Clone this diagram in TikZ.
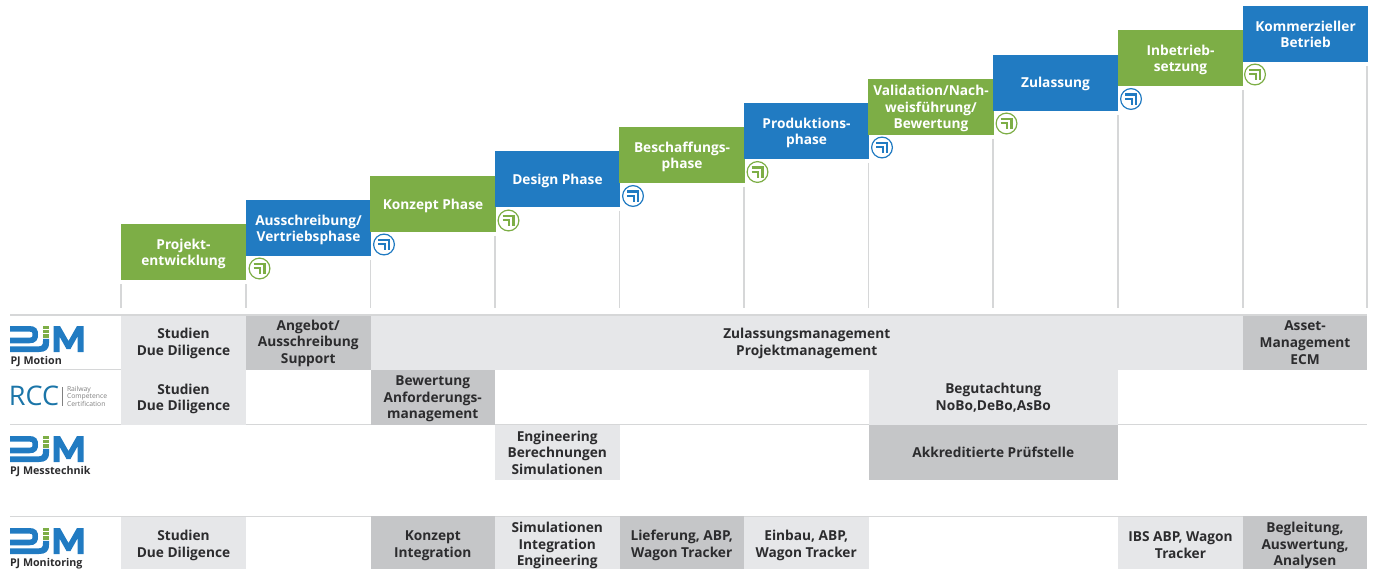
\documentclass[tikz,border=0pt]{standalone}
\usepackage{fontspec}
\setmainfont{Open Sans}
\definecolor{pjblue}{HTML}{217BC2}
\definecolor{pjgreen}{HTML}{7DAE46}
\definecolor{celllight}{HTML}{E6E7E9}
\definecolor{celldark}{HTML}{C5C6C8}
\definecolor{rulegrey}{HTML}{D6D7D8}
\definecolor{inkdark}{HTML}{2C2C2E}
\definecolor{rccblue}{HTML}{1B75A8}
\tikzset{
  x=1pt,y=-1pt,
  boxbase/.style={inner sep=0pt,outer sep=0pt},
  captiontext/.style={inner sep=0pt,outer sep=0pt,align=center,font=\fontsize{13.7}{16.6}\selectfont\bfseries},
  stepblue/.style={boxbase,fill=pjblue},
  stepgreen/.style={boxbase,fill=pjgreen},
  lightcell/.style={boxbase,fill=celllight},
  darkcell/.style={boxbase,fill=celldark},
  rowrule/.style={draw=rulegrey,line width=1.2pt},
  toprule/.style={draw=rulegrey,line width=2pt},
  colrule/.style={draw=rulegrey,line width=1.2pt},
  logotext/.style={inner sep=0pt,outer sep=0pt,anchor=base west,text=inkdark,font=\fontsize{10.7}{12}\selectfont\bfseries},
}
% name, x0, x1, y0, y1, box style, text shift downward, text
\newcommand{\cellbox}[8]{%
  \node[#6,minimum width={(#3-#2)*1pt},minimum height={(#5-#4)*1pt}] (#1) at ({(#2+#3)/2},{(#4+#5)/2}) {};
  \node[captiontext,text=inkdark,yshift={-(#7)*1pt}] (#1t) at (#1) {#8};}
% name, x, y, box style, text shift downward, text
\newcommand{\stagebox}[6]{%
  \node[#4,minimum width=125.5pt,minimum height=56pt] (#1) at ({#2+62.5},{#3+28}) {};
  \node[captiontext,text=white,yshift={-(#5)*1pt}] (#1t) at (#1) {#6};}
\newcommand{\hookicon}[3]{%
  \begin{scope}[shift={(#1,#2)}]
    \draw[#3,line width=1.2pt,fill=white] (0,0) circle (10.4);
    \draw[#3,line width=2.3pt] (-6,-4.6) -- (5,-4.6) -- (5,5.6);
    \draw[#3,line width=2.3pt] (-6,-0.2) -- (0.8,-0.2) -- (0.8,5.6);
  \end{scope}}
\newcommand{\pjmlogo}[2]{%
  \begin{scope}[shift={(#1,#2)}]
    \draw[pjblue,line width=5.6pt] (0,2.8) -- (19,2.8) .. controls (24.5,2.8) and (25.2,5) .. (25.2,8.6) .. controls (25.2,12) and (24.5,14.5) .. (19,14.5) -- (0,14.5);
    \fill[pjblue] (0,20.4) -- (28,20.4) .. controls (32,20.4) and (33,19) .. (33,15) -- (33,12.8) -- (39,12.8) -- (39,17) .. controls (39,24) and (35,26) .. (29,26) -- (0,26) -- cycle;
    \fill[pjgreen] (33,0) rectangle (39,3);
    \fill[pjgreen] (33,4) rectangle (39,7);
    \fill[pjgreen] (33,8) rectangle (39,11.5);
    \fill[pjblue] (43.5,26) -- (43.5,0) -- (50,0) -- (58.5,15) -- (67,0) -- (73.5,0) -- (73.5,26) -- (67.5,26) -- (67.5,10.5) -- (60.5,23) -- (56.5,23) -- (49.5,10.5) -- (49.5,26) -- cycle;
  \end{scope}}
\begin{document}
\begin{tikzpicture}
\useasboundingbox (0,0) rectangle (1375,569);
% column rules
\foreach \cx/\cy in {121/284,246/284,370.5/260,495/236,619.5/211,744/187,868.5/163,993/139,1118/115,1243/90,1367/66}
  \draw[colrule] (\cx,\cy) -- (\cx,308);
% row rules
\draw[rowrule] (10,369.5) -- (1367,369.5);
\draw[rowrule] (10,424.5) -- (1367,424.5);
\draw[rowrule] (10,516.5) -- (1367,516.5);
% stages
\stagebox{s1}{121}{224}{stepgreen}{2}{Projekt-\\entwicklung}
\stagebox{s2}{246}{200}{stepblue}{2}{Ausschreibung/\\Vertriebsphase}
\stagebox{s3}{370.5}{176}{stepgreen}{2}{Konzept Phase}
\stagebox{s4}{495}{151}{stepblue}{2}{Design Phase}
\stagebox{s5}{619.5}{127}{stepgreen}{2}{Beschaffungs-\\phase}
\stagebox{s6}{744}{103}{stepblue}{2}{Produktions-\\phase}
\stagebox{s7}{868.5}{79}{stepgreen}{1.5}{Validation/Nach-\\weisführung/\\Bewertung}
\stagebox{s8}{993}{55}{stepblue}{1}{Zulassung}
\stagebox{s9}{1118}{30}{stepgreen}{2}{Inbetrieb-\\setzung}
\stagebox{s10}{1243}{6}{stepblue}{0.5}{Kommerzieller\\Betrieb}
% icons
\hookicon{259.5}{268.5}{pjgreen}
\hookicon{384}{244.5}{pjblue}
\hookicon{508.5}{220.5}{pjgreen}
\hookicon{633}{196}{pjblue}
\hookicon{757.5}{172}{pjgreen}
\hookicon{882}{147.5}{pjblue}
\hookicon{1006.5}{123.5}{pjgreen}
\hookicon{1131}{99}{pjblue}
\hookicon{1255}{74.5}{pjgreen}
% row 1
\cellbox{a1}{121}{246}{315}{369.5}{lightcell}{1}{Studien\\Due Diligence}
\cellbox{a2}{246}{370.5}{315}{369.5}{darkcell}{1}{Angebot/\\Ausschreibung\\Support}
\cellbox{a3}{370.5}{1243}{315}{369.5}{lightcell}{1}{Zulassungsmanagement\\Projektmanagement}
\cellbox{a4}{1243}{1367}{315}{369.5}{darkcell}{0.5}{Asset-\\Management\\ECM}
% row 2
\cellbox{b1}{121}{246}{370}{424.5}{lightcell}{1.5}{Studien\\Due Diligence}
\cellbox{b2}{370.5}{495}{369.5}{424.5}{darkcell}{2}{Bewertung\\Anforderungs-\\management}
\cellbox{b3}{868.5}{1118}{370}{424.5}{lightcell}{0.5}{Begutachtung\\NoBo,DeBo,AsBo}
% row 3
\cellbox{c1}{495}{619.5}{425}{480}{lightcell}{0}{Engineering\\Berechnungen\\Simulationen}
\cellbox{c2}{868.5}{1118}{424.5}{480}{darkcell}{0}{Akkreditierte Prüfstelle}
% row 4
\cellbox{d1}{121}{246}{517}{569}{lightcell}{2.5}{Studien\\Due Diligence}
\cellbox{d2}{370.5}{495}{516}{569}{darkcell}{3}{Konzept\\Integration}
\cellbox{d3}{495}{619.5}{517}{569}{lightcell}{2.5}{Simulationen\\Integration\\Engineering}
\cellbox{d4}{619.5}{744}{516}{569}{darkcell}{3}{Lieferung, ABP,\\Wagon Tracker}
\cellbox{d5}{744}{868.5}{517}{569}{lightcell}{2.5}{Einbau, ABP,\\Wagon Tracker}
\cellbox{d6}{1118}{1243}{517}{569}{lightcell}{2}{IBS ABP, Wagon\\Tracker}
\cellbox{d7}{1243}{1367}{516}{569}{darkcell}{3}{Begleitung,\\Auswertung,\\Analysen}
% top rule
\draw[toprule] (10,314.5) -- (1367,314.5);
% logos
\pjmlogo{10}{326}
\node[logotext] (lm1) at (10.5,364) {PJ Motion};
\pjmlogo{10}{436}
\node[logotext] (lm2) at (10,474.5) {PJ Messtechnik};
\pjmlogo{10}{528}
\node[logotext] (lm3) at (10,566) {PJ Monitoring};
\node[inner sep=0pt,outer sep=0pt,anchor=base west,text=rccblue,font=\fontsize{27}{27}\selectfont] (rcc) at (9,405) {RCC};
\draw[draw=gray,line width=0.8pt] (62.5,387) -- (62.5,405.5);
\node[inner sep=0pt,outer sep=0pt,anchor=west,align=left,text=gray,font=\fontsize{6.8}{6.8}\selectfont] (rcct) at (67,396.5) {Railway\\Competence\\Certification};
\end{tikzpicture}
\end{document}
